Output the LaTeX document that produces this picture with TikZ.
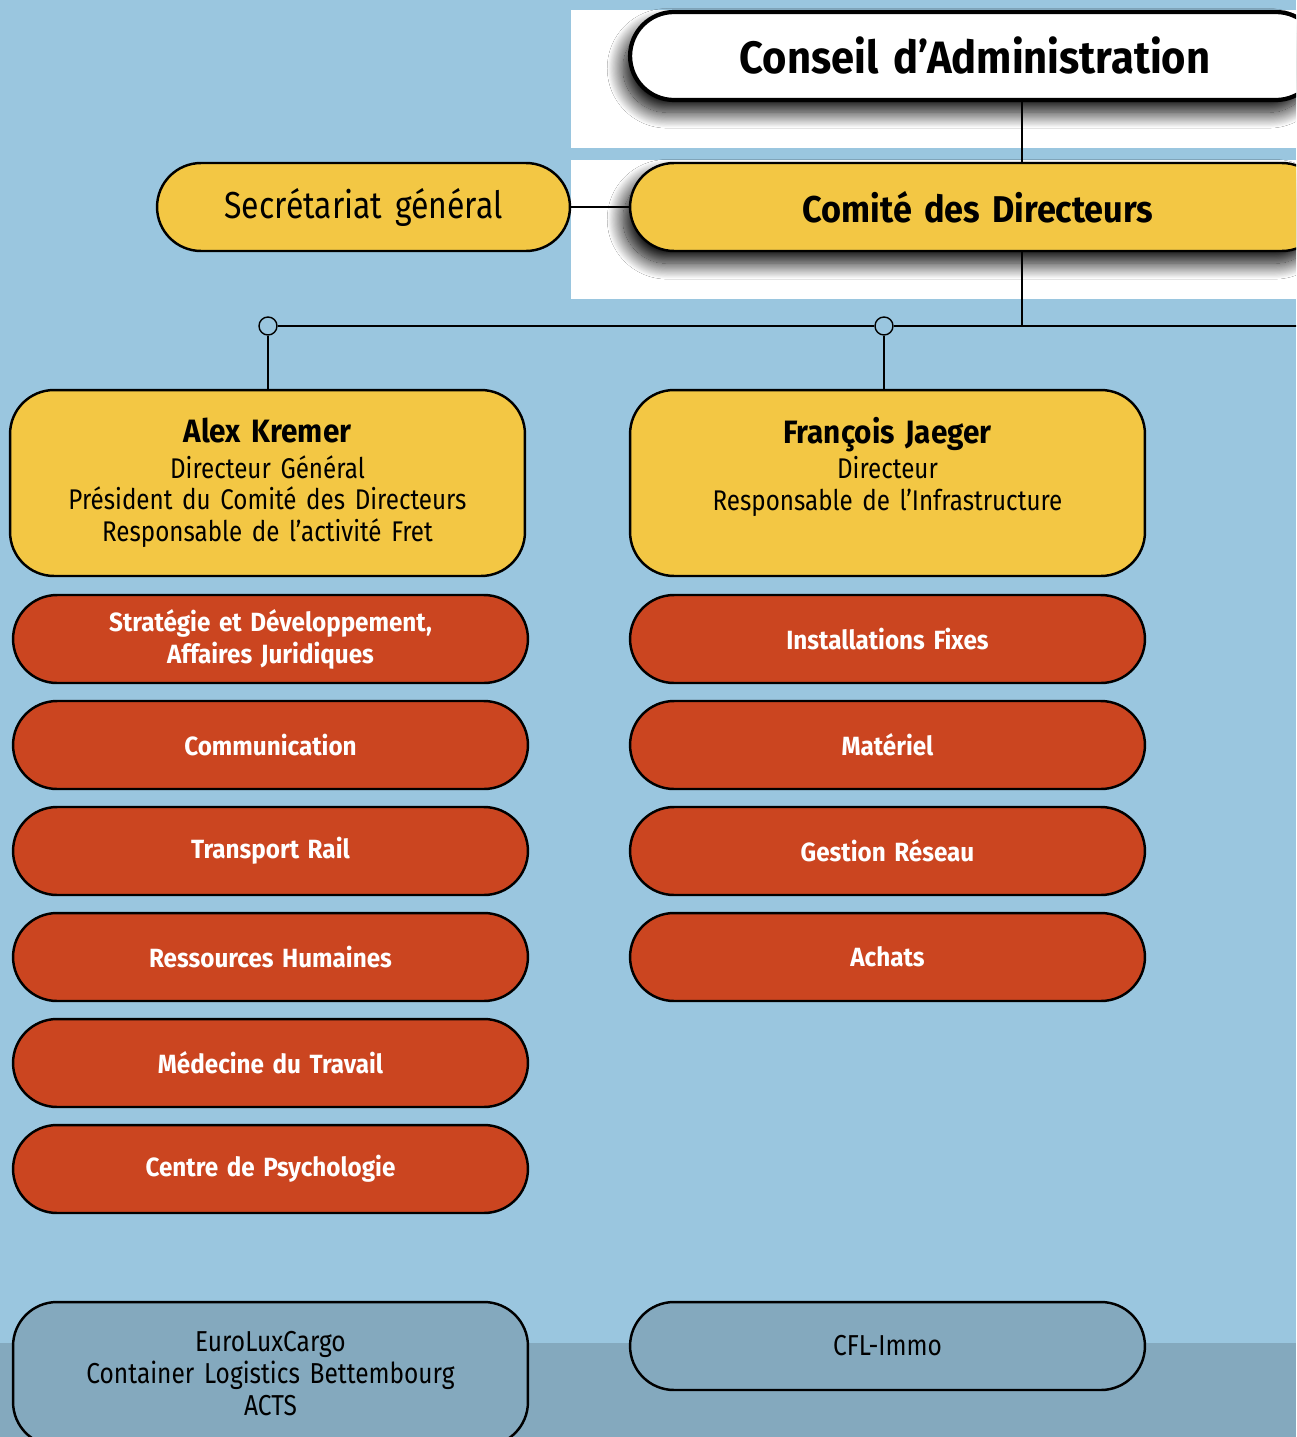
\documentclass[tikz,border=0pt]{standalone}
\usepackage{fontspec}
\setmainfont{Fira Sans}[FakeStretch=0.85, WordSpace=1.5]
\newfontfamily\boldface{Fira Sans}[FakeStretch=0.92, WordSpace=1.5]
\usepackage{tikz}
\usetikzlibrary{positioning, shadows, shadows.blur, calc}
\definecolor{skyblue}{HTML}{9AC6DF}
\definecolor{greyblue}{HTML}{84A9BE}
\definecolor{cflyellow}{HTML}{F3C744}
\definecolor{cflred}{HTML}{CB4520}
\tikzstyle{box}=[draw=black, line width=1.4pt, rounded corners=0.88cm,
  minimum width=10.3cm, minimum height=1.76cm, align=center, inner sep=0pt]
\tikzstyle{topBox}=[box, fill=cflyellow, font=\boldface\bfseries\fontsize{21.2}{24}\selectfont,
  blur shadow={shadow xshift=-4pt, shadow yshift=-7pt, shadow blur radius=9pt,
  shadow blur steps=30, shadow opacity=100}]
\tikzstyle{headBox}=[box, fill=cflyellow, minimum height=3.72cm,
  font=\fontsize{16.2}{18.2}\selectfont]
\tikzstyle{deptBox}=[box, fill=cflred, text=white,
  font=\boldface\bfseries\fontsize{15}{18.2}\selectfont]
\tikzstyle{subsBox}=[box, fill=greyblue, font=\fontsize{16.4}{18.2}\selectfont]
\tikzstyle{link}=[draw=black, line width=0.8pt]
\tikzstyle{joint}=[circle, draw=black, line width=0.8pt, fill=skyblue,
  minimum size=0.36cm, inner sep=0pt]
\newcommand{\persName}[1]{{\boldface\bfseries\fontsize{18.4}{20}\selectfont #1}}

\begin{document}
\begin{tikzpicture}[x=0.02cm, y=-0.02cm]
  \useasboundingbox (0,0) rectangle (1296,1437);
  \clip (0,0) rectangle (1296,1437);
  % background
  \fill[skyblue] (0,0) rectangle (1296,1437);
  \fill[greyblue] (0,1343) rectangle (1296,1437);
  \fill[white] (571,10) rectangle (1296,148);
  \fill[white] (571,160) rectangle (1296,299);

  % top of the tree
  \node[topBox, fill=white, line width=2.4pt, minimum width=13.8cm,
    font=\boldface\bfseries\fontsize{25.8}{28}\selectfont] (conseil) at (975,56)
    {Conseil d’Administration};
  \node[topBox, minimum width=13.92cm] (comite) at (978,207) {Comité des Directeurs};
  \node[box, fill=cflyellow, minimum width=8.26cm,
    font=\fontsize{21.4}{24}\selectfont] (secr) at (363.5,207) {Secrétariat général};

  \coordinate (trunk) at (1022,326);
  \coordinate (busEnd) at (1310,326);
  \node[joint] (c1) at (268,326) {};
  \node[joint] (c2) at (884,326) {};

  % directors
  \node[headBox] (alex) at (267.5,483)
    {\persName{Alex Kremer}\\[2pt]
     Directeur Général\\Président du Comité des Directeurs\\Responsable de l’activité Fret};
  \node[headBox] (francois) at (887.5,483)
    {\persName{François Jaeger}\\[2pt]
     Directeur\\Responsable de l’Infrastructure\\\vphantom{Responsable de l’activité Fret}};

  \draw[link] (secr.east) -- (comite.west);
  \draw[link] (conseil.south -| trunk) -- (comite.north -| trunk);
  \draw[link] (comite.south -| trunk) -- (trunk);
  \draw[link] (c1.east) -- (c2.west);
  \draw[link] (c2.east) -- (busEnd);
  \draw[link] (c1.south) -- (c1.south |- alex.north);
  \draw[link] (c2.south) -- (c2.south |- francois.north);

  % departments
  \foreach \txt [count=\i] in {{Stratégie et Développement,\\Affaires Juridiques},
    Communication, Transport Rail, Ressources Humaines, Médecine du Travail,
    Centre de Psychologie}
    \node[deptBox] (left\i) at (270.5,533+106*\i) {\txt};
  \foreach \txt [count=\i] in {Installations Fixes, Matériel, Gestion Réseau, Achats}
    \node[deptBox] (right\i) at (887.5,533+106*\i) {\txt};

  % subsidiaries
  \node[subsBox, minimum height=2.88cm] (filFret) at (270.5,1374)
    {EuroLuxCargo\\Container Logistics Bettembourg\\ACTS};
  \node[subsBox] (filImmo) at (887.5,1346) {CFL-Immo};
\end{tikzpicture}
\end{document}
